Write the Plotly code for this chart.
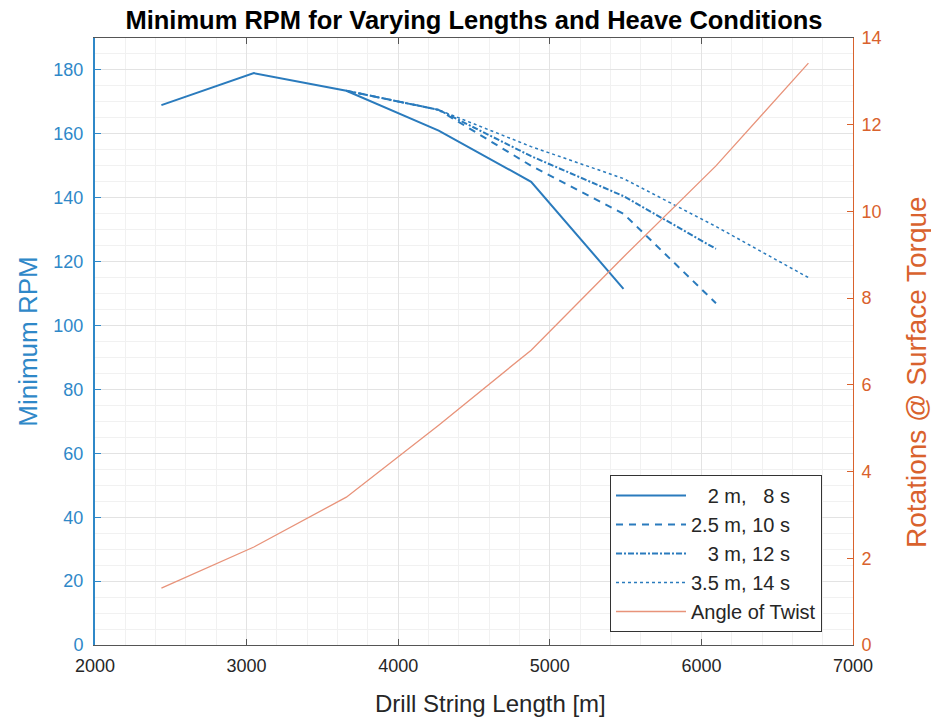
import plotly.graph_objects as go

lengths = [2438, 3048, 3658, 4267, 4877, 5486, 6096, 6706]

rpm_2m_8s = [169, 179, 173.5, 161, 145, 111.5]
len_2m = lengths[:6]

rpm_25m_10s = [173.5, 167.5, 150, 135, 107]
len_25m = lengths[2:7]

rpm_3m_12s = [173.5, 167.5, 153, 140.5, 124]
len_3m = lengths[2:7]

rpm_35m_14s = [173.5, 167.5, 156, 146, 131, 115]
len_35m = lengths[2:8]

twist = [1.31, 2.26, 3.41, 5.07, 6.8, 8.95, 11.05, 13.42]

NB = "\u00a0"
names = [NB * 3 + "2 m," + NB * 3 + "8 s", "2.5 m, 10 s", NB * 3 + "3 m, 12 s", "3.5 m, 14 s", "Angle of Twist"]

BLUE = "#2a7bbd"
BLUE_T = "#2f88c8"
ORANGE = "#e8937a"
ORANGE_T = "#d9622d"
FONT = "Liberation Sans"

fig = go.Figure()
fig.add_trace(go.Scatter(x=len_2m, y=rpm_2m_8s, mode="lines", name=names[0],
                         line=dict(color=BLUE, width=2)))
fig.add_trace(go.Scatter(x=len_25m, y=rpm_25m_10s, mode="lines", name=names[1],
                         line=dict(color=BLUE, width=2, dash="7px,6px")))
fig.add_trace(go.Scatter(x=len_3m, y=rpm_3m_12s, mode="lines", name=names[2],
                         line=dict(color=BLUE, width=2, dash="6px,2px,2px,2px")))
fig.add_trace(go.Scatter(x=len_35m, y=rpm_35m_14s, mode="lines", name=names[3],
                         line=dict(color=BLUE, width=1.5, dash="dot")))
fig.add_trace(go.Scatter(x=lengths, y=twist, mode="lines", name=names[4], yaxis="y2",
                         line=dict(color=ORANGE, width=1.3)))

fig.update_layout(
    width=931, height=722,
    margin=dict(l=95, r=78, t=38, b=77),
    paper_bgcolor="white", plot_bgcolor="white",
    font=dict(family=FONT, size=16, color="#262626"),
    title=dict(text="<b>Minimum RPM for Varying Lengths and Heave Conditions</b>",
               x=(95 + 853) / 2 / 931, xanchor="center", y=0.972, yanchor="middle",
               font=dict(size=25.5, color="#000000")),
    xaxis=dict(range=[2000, 7000], tickvals=[2000, 3000, 4000, 5000, 6000, 7000],
               showgrid=True, gridcolor="#e3e3e3", gridwidth=1,
               minor=dict(dtick=200, showgrid=True, gridcolor="#f1f1f1", gridwidth=1),
               showline=True, linecolor="#555555", linewidth=1, mirror="ticks",
               ticks="inside", ticklen=6, tickcolor="#555555",
               tickfont=dict(size=18, color="#262626"), ticklabelstandoff=4,
               zeroline=False),
    yaxis=dict(range=[0, 190], tickvals=list(range(0, 181, 20)),
               showgrid=True, gridcolor="#e3e3e3", gridwidth=1,
               minor=dict(dtick=5, showgrid=True, gridcolor="#f1f1f1", gridwidth=1),
               showline=True, linecolor=BLUE_T, linewidth=2,
               ticks="inside", ticklen=6, tickcolor=BLUE_T,
               tickfont=dict(size=18, color=BLUE_T), ticklabelstandoff=6,
               title=dict(text="Minimum RPM", font=dict(size=26, color=BLUE_T), standoff=8),
               zeroline=False),
    yaxis2=dict(range=[0, 14], tickvals=list(range(0, 15, 2)), overlaying="y", side="right",
                showgrid=False, showline=True, linecolor=ORANGE_T, linewidth=1,
                ticks="inside", ticklen=6, tickcolor=ORANGE_T,
                tickfont=dict(size=18, color=ORANGE_T), ticklabelstandoff=4,
                zeroline=False),
    legend=dict(x=(610 - 95) / 758, y=(645 - 475) / 607, xanchor="left", yanchor="top",
                bgcolor="white", bordercolor="#333333", borderwidth=1,
                font=dict(size=20, color="#262626"), itemwidth=70,
                tracegroupgap=0),
    showlegend=True,
    annotations=[
        dict(text="Drill String Length [m]", xref="paper", yref="paper",
             x=(490 - 95) / 758, y=(645 - 703) / 607, xanchor="center", yanchor="middle",
             showarrow=False, font=dict(size=24, color="#262626")),
        dict(text="Rotations @ Surface Torque", xref="paper", yref="paper",
             x=(917 - 95) / 758, y=(645 - 372) / 607, xanchor="center", yanchor="middle",
             textangle=-90, showarrow=False, font=dict(size=28, color=ORANGE_T)),
    ],
)

fig.write_html("out.html")
